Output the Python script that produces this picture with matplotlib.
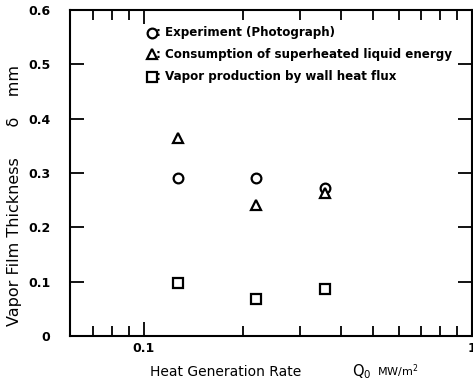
import matplotlib
matplotlib.use("Agg")
import matplotlib.pyplot as plt
from matplotlib.ticker import FixedLocator, NullFormatter

# Data
q0 = [0.127, 0.219, 0.357]
experiment = [0.290, 0.290, 0.272]
consumption = [0.364, 0.241, 0.263]
wall_flux = [0.098, 0.068, 0.087]

legend_labels = [": Experiment (Photograph)",
                 ": Consumption of superheated liquid energy",
                 ": Vapor production by wall heat flux"]
y_ticks = [0, 0.1, 0.2, 0.3, 0.4, 0.5, 0.6]
y_ticklabels = ["0", "0.1", "0.2", "0.3", "0.4", "0.5", "0.6"]
x_major = [0.1, 1.0]
x_majorlabels = ["0.1", "1"]
x_minor = [0.07, 0.08, 0.09, 0.2, 0.3, 0.4, 0.5, 0.6, 0.7, 0.8, 0.9]

fig = plt.figure(figsize=(4.73, 3.85), dpi=100)
ax = fig.add_axes([0.148, 0.1273, 0.85, 0.8467])
ax.set_xscale("log")
ax.set_xlim(0.0596, 1.0)
ax.set_ylim(0, 0.6)

mk = dict(linestyle="none", markerfacecolor="white", markeredgecolor="black",
          markeredgewidth=1.6, color="black")
ax.plot(q0, experiment, marker="o", markersize=7, **mk)
ax.plot(q0, consumption, marker="^", markersize=7.5, **mk)
ax.plot(q0, wall_flux, marker="s", markersize=7, **mk)

# Legend drawn as symbols + text
markers = ["o", "^", "s"]
ly = [0.930, 0.864, 0.796]
for m, lab, yy in zip(markers, legend_labels, ly):
    ax.plot([0.203], [yy], marker=m, markersize=7, transform=ax.transAxes,
            clip_on=False, **mk)
    ax.text(0.215, yy, lab, transform=ax.transAxes, fontsize=8.6,
            fontweight="bold", va="center", ha="left")

for s in ax.spines.values():
    s.set_linewidth(1.5)

ax.yaxis.set_major_locator(FixedLocator(y_ticks))
ax.set_yticklabels(y_ticklabels)
ax.xaxis.set_major_locator(FixedLocator(x_major))
ax.set_xticklabels(x_majorlabels)
ax.xaxis.set_minor_locator(FixedLocator(x_minor))
ax.xaxis.set_minor_formatter(NullFormatter())

ax.tick_params(axis="both", which="major", direction="in", length=10, width=1.3,
               top=True, right=True, labelsize=9)
ax.tick_params(axis="both", which="minor", direction="in", length=7, width=1.3,
               top=True, right=True)
ax.tick_params(axis="y", pad=14)
ax.tick_params(axis="x", pad=4)
for lbl in ax.get_yticklabels() + ax.get_xticklabels():
    lbl.set_fontweight("bold")

ax.set_ylabel("Vapor Film Thickness      \u03b4    mm", fontsize=11.5)
ax.yaxis.set_label_coords(-0.12, 0.43)
fig.text(0.317, 0.034, "Heat Generation Rate", fontsize=10,
         ha="left", va="center")
fig.text(0.744, 0.034, "Q$_0$", fontsize=10.5, ha="left", va="center")
fig.text(0.797, 0.037, "MW/m$^2$", fontsize=8, ha="left", va="center")

fig.savefig("out.png", dpi=100)
